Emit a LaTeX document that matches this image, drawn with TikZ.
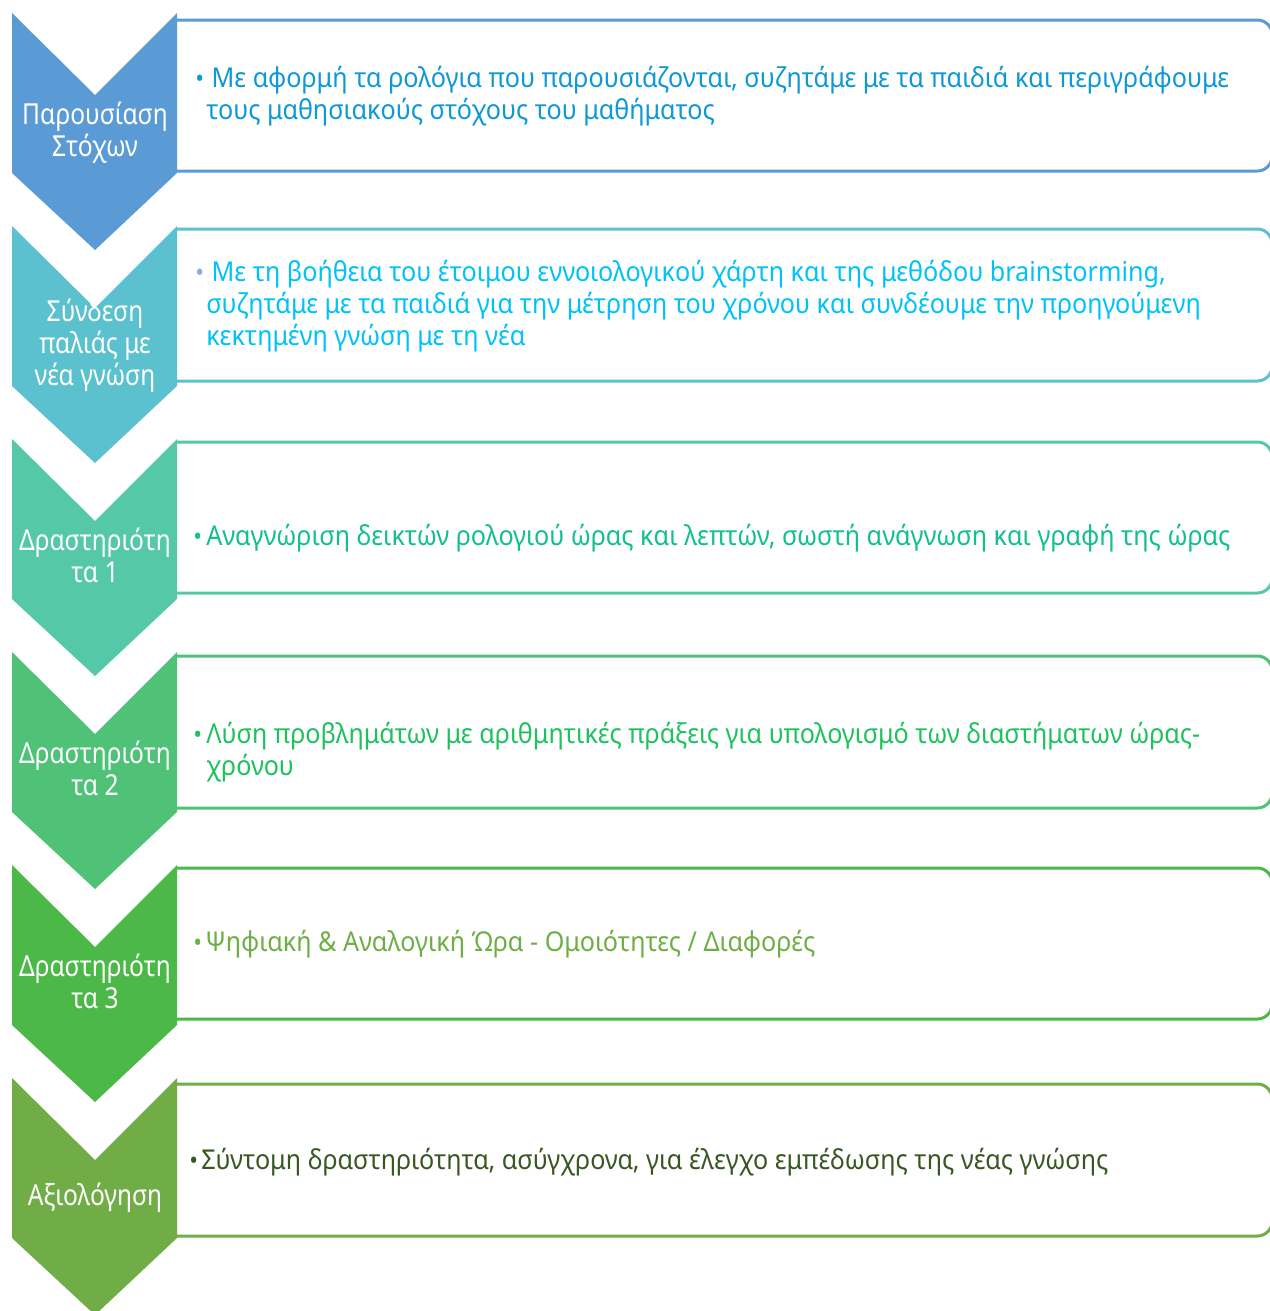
\documentclass[tikz,border=0pt]{standalone}
\usepackage{fontspec}
\setmainfont[FakeStretch=0.92]{Noto Sans}
\newfontfamily\lblfont[FakeStretch=0.85]{Noto Sans}
\definecolor{c1}{HTML}{5B9BD5}
\definecolor{c2}{HTML}{5BC1CE}
\definecolor{c3}{HTML}{54C8A8}
\definecolor{c4}{HTML}{4FC278}
\definecolor{c5}{HTML}{4CB848}
\definecolor{c6}{HTML}{70AD47}
\definecolor{t1}{HTML}{0E98D6}
\definecolor{t2}{HTML}{00C2F7}
\definecolor{t3}{HTML}{12BF8F}
\definecolor{t4}{HTML}{1DC25E}
\definecolor{t5}{HTML}{6DAF45}
\definecolor{t6}{HTML}{385723}
\definecolor{b2}{HTML}{8FA9DC}
\newcommand{\chevronshape}[2]{% top y, colour
  \fill[#2] (12,#1) -- (95,#1+82) -- (177,#1) -- (177,#1+160) -- (95,#1+237) -- (12,#1+160) -- cycle;}
\newcommand{\stagebox}[3]{% top, bottom, colour
  \draw[#3, line width=2.25pt, rounded corners=11pt] (176,#1) -- (1272,#1) -- (1272,#2) -- (176,#2);}
\begin{document}
\begin{tikzpicture}[x=0.75pt,y=-0.75pt,
  lbl/.style={anchor=base, inner sep=0pt, text=white, font=\lblfont\fontsize{21.7pt}{24pt}\selectfont},
  txt/.style={anchor=base west, inner sep=0pt, font=\fontsize{20.5pt}{24pt}\selectfont},
  bul/.style={anchor=base west, inner sep=0pt, font=\fontsize{19pt}{24pt}\selectfont}]
\useasboundingbox[fill=white] (0,0) rectangle (1270,1311);
% boxes
\stagebox{20}{171}{c1}
\stagebox{229}{381}{c2}
\stagebox{442}{593}{c3}
\stagebox{656}{808}{c4}
\stagebox{868}{1019}{c5}
\stagebox{1084}{1236}{c6}
% chevrons
\chevronshape{13}{c1}
\chevronshape{226}{c2}
\chevronshape{439}{c3}
\chevronshape{652}{c4}
\chevronshape{865}{c5}
\chevronshape{1078}{c6}
% chevron labels
\node[lbl] (l1) at (95,124) {\parbox[t]{127pt}{\centering Παρουσίαση\\Στόχων}};
\node[lbl] (l2) at (95,321) {\parbox[t]{127pt}{\centering Σύνδεση\\παλιάς με\\νέα γνώση}};
\node[lbl] (l3) at (95,550) {\parbox[t]{127pt}{\centering Δραστηριότη\\τα 1}};
\node[lbl] (l4) at (95,763) {\parbox[t]{127pt}{\centering Δραστηριότη\\τα 2}};
\node[lbl] (l5) at (95,976) {\parbox[t]{127pt}{\centering Δραστηριότη\\τα 3}};
\node[lbl] (l6) at (95,1205) {Αξιολόγηση};
% bullets
\node[bul, text=t1] (p1) at (195,87) {•};
\node[bul, text=b2] (p2) at (195,281) {•};
\node[bul, text=t3] (p3) at (193,545) {•};
\node[bul, text=t4] (p4) at (193,743) {•};
\node[bul, text=t5] (p5) at (193,951) {•};
\node[bul, text=t6] (p6) at (189,1169) {•};
% texts
\node[txt, text=t1] (x1) at (206,87) {\parbox[t]{795pt}{\raggedright\hspace*{4pt}Με αφορμή τα ρολόγια που παρουσιάζονται, συζητάμε με τα παιδιά και περιγράφουμε\\τους μαθησιακούς στόχους του μαθήματος}};
\node[txt, text=t2] (x2) at (206,281) {\parbox[t]{795pt}{\raggedright\hspace*{4pt}Με τη βοήθεια του έτοιμου εννοιολογικού χάρτη και της μεθόδου brainstorming,\\συζητάμε με τα παιδιά για την μέτρηση του χρόνου και συνδέουμε την προηγούμενη\\κεκτημένη γνώση με τη νέα}};
\node[txt, text=t3] (x3) at (206,545) {Αναγνώριση δεικτών ρολογιού ώρας και λεπτών, σωστή ανάγνωση και γραφή της ώρας};
\node[txt, text=t4] (x4) at (206,743) {\parbox[t]{795pt}{\raggedright Λύση προβλημάτων με αριθμητικές πράξεις για υπολογισμό των διαστήματων ώρας-\\χρόνου}};
\node[txt, text=t5] (x5) at (205,951) {Ψηφιακή \& Αναλογική Ώρα - Ομοιότητες / Διαφορές};
\node[txt, text=t6] (x6) at (201,1169) {Σύντομη δραστηριότητα, ασύγχρονα, για έλεγχο εμπέδωσης της νέας γνώσης};
\end{tikzpicture}
\end{document}
